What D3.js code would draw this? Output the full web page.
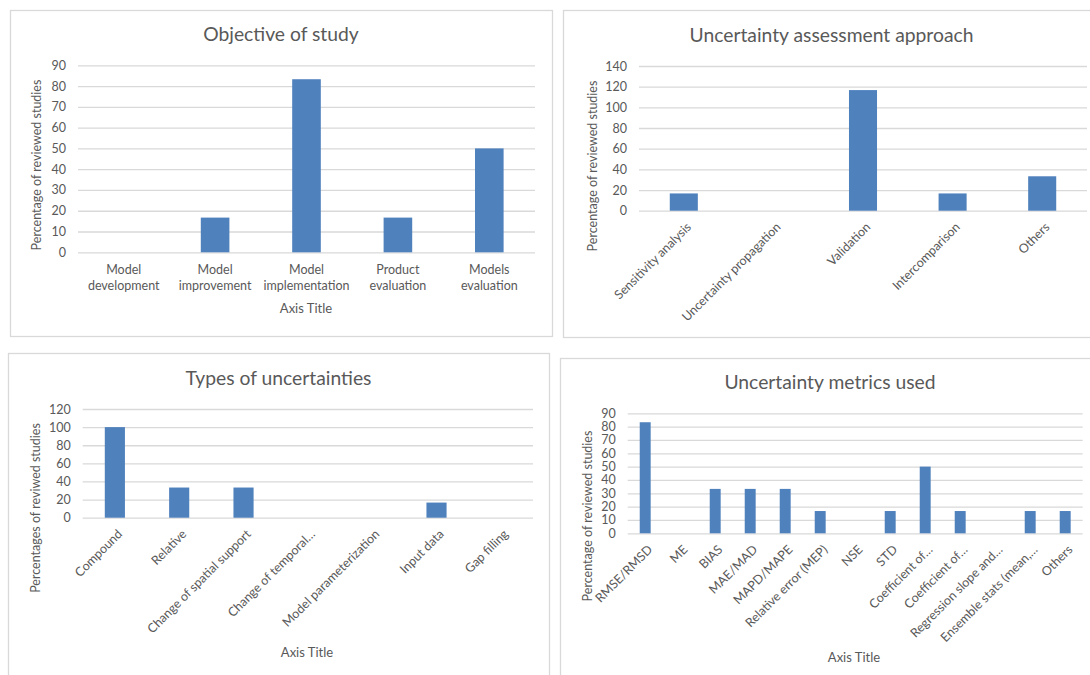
<!DOCTYPE html>
<html>
<head>
<meta charset="utf-8">
<script src="https://cdn.jsdelivr.net/npm/d3@7"></script>
<style>
  body { margin: 0; background: #fff; }
  svg text { font-family: Lato, "Open Sans", sans-serif; fill: #595959; }
</style>
</head>
<body>
<div id="chart"></div>
<script>
const w = 1090;
const h = 675;

// objective of study
const objectiveCats = ['Model development', 'Model improvement', 'Model implementation', 'Product evaluation', 'Models evaluation'];
const objectiveValues = [0, 16.7, 83.3, 16.7, 50];
const objectiveTicks = [0, 10, 20, 30, 40, 50, 60, 70, 80, 90];

// uncertainty assessment approach
const approachCats = ['Sensitivity analysis', 'Uncertainty propagation', 'Validation', 'Intercomparison', 'Others'];
const approachValues = [16.7, 0, 116.7, 16.7, 33.3];
const approachTicks = [0, 20, 40, 60, 80, 100, 120, 140];

// types of uncertainties
const typeCats = ['Compound', 'Relative', 'Change of spatial support', 'Change of temporal…', 'Model parameterization', 'Input data', 'Gap filling'];
const typeValues = [100, 33.3, 33.3, 0, 0, 16.7, 0];
const typeTicks = [0, 20, 40, 60, 80, 100, 120];

// uncertainty metrics used
const metricCats = ['RMSE/RMSD', 'ME', 'BIAS', 'MAE/MAD', 'MAPD/MAPE', 'Relative error (MEP)', 'NSE', 'STD',
  'Coefficient of…', 'Coefficient of…', 'Regression slope and…', 'Ensemble stats (mean,…', 'Others'];
const metricValues = [83.3, 0, 33.3, 33.3, 33.3, 16.7, 0, 16.7, 50, 16.7, 0, 16.7, 16.7];
const metricTicks = [0, 10, 20, 30, 40, 50, 60, 70, 80, 90];

const barColor = '#4f81bd';
const gridColor = '#d9d9d9';

const svg = d3.select('#chart').append('svg').attr('width', w).attr('height', h);

function drawPanel(o) {
  // frame
  svg.append('rect')
    .attr('x', o.box[0] + 0.5).attr('y', o.box[1] + 0.5)
    .attr('width', o.box[2] - o.box[0]).attr('height', o.box[3] - o.box[1])
    .attr('fill', '#fff').attr('stroke', gridColor).attr('stroke-width', 1.3);

  svg.append('text')
    .attr('x', (o.box[0] + o.box[2]) / 2).attr('y', o.titleY)
    .attr('text-anchor', 'middle').style('font-size', '19.3px')
    .text(o.title);

  const x = d3.scaleBand()
    .domain(d3.range(o.cats.length))
    .range([o.left, o.right])
    .paddingInner(0.687)
    .paddingOuter(0.3435);

  const y = d3.scaleLinear()
    .domain([0, d3.max(o.ticks)])
    .range([o.bottom, o.top]);

  const yAxis = d3.axisLeft(y)
    .tickValues(o.ticks)
    .tickSize(-(o.right - o.left))
    .tickPadding(12);

  const gy = svg.append('g')
    .attr('transform', `translate(${o.left},0)`)
    .call(yAxis);
  gy.select('.domain').remove();
  gy.selectAll('.tick line').attr('stroke', gridColor).attr('stroke-width', 1.3);
  gy.selectAll('.tick text').style('font-size', '12.5px').attr('fill', '#595959').attr('font-family', null);

  svg.append('g')
    .selectAll('rect')
    .data(o.values)
    .enter()
    .append('rect')
    .attr('x', (d, i) => x(i))
    .attr('width', x.bandwidth())
    .attr('y', (d) => y(d))
    .attr('height', (d) => o.bottom - y(d))
    .attr('fill', barColor);

  const xAxis = d3.axisBottom(x)
    .tickSize(0)
    .tickFormat((i) => o.cats[i]);

  const gx = svg.append('g')
    .attr('transform', `translate(0,${o.bottom})`)
    .call(xAxis);
  gx.select('.domain').remove();
  const labels = gx.selectAll('.tick text')
    .attr('fill', '#595959').attr('font-family', null)
    .style('font-size', '12.5px');

  if (o.rotate) {
    labels
      .attr('text-anchor', 'end')
      .attr('x', 0).attr('y', 0).attr('dy', '0.35em')
      .attr('transform', 'translate(5,14) rotate(-45)');
  } else {
    labels.each(function (d) {
      const t = d3.select(this);
      const s = o.cats[d];
      const k = s.indexOf(' ');
      t.text(null).attr('y', 0).attr('dy', null);
      t.append('tspan').attr('x', 0).attr('y', 22).text(s.slice(0, k));
      t.append('tspan').attr('x', 0).attr('y', 38).text(s.slice(k + 1));
    });
  }

  svg.append('text')
    .attr('transform', `translate(${o.yTitleX},${o.yTitleY}) rotate(-90)`)
    .attr('text-anchor', 'middle').attr('dy', '0.35em')
    .style('font-size', '12.5px')
    .text(o.yTitle);

  if (o.xTitleY) {
    svg.append('text')
      .attr('x', o.xTitleX).attr('y', o.xTitleY)
      .attr('text-anchor', 'middle').attr('dy', '0.35em')
      .style('font-size', '13px')
      .text('Axis Title');
  }
}

drawPanel({
  box: [10, 10, 552, 336], title: 'Objective of study', titleY: 41,
  cats: objectiveCats, values: objectiveValues, ticks: objectiveTicks,
  left: 78, right: 535, top: 65.3, bottom: 252.3, rotate: false,
  yTitle: 'Percentage of reviewed studies', yTitleX: 37, yTitleY: 165,
  xTitleX: 306, xTitleY: 308
});

drawPanel({
  box: [563, 10, 1100, 337], title: 'Uncertainty assessment approach', titleY: 42,
  cats: approachCats, values: approachValues, ticks: approachTicks,
  left: 639, right: 1087, top: 66, bottom: 210.7, rotate: true,
  yTitle: 'Percentage of reviewed studies', yTitleX: 593, yTitleY: 166
});

drawPanel({
  box: [8, 353, 549, 690], title: 'Types of uncertainties', titleY: 385,
  cats: typeCats, values: typeValues, ticks: typeTicks,
  left: 82.7, right: 533, top: 409, bottom: 517.7, rotate: true,
  yTitle: 'Percentages of reviwed studies', yTitleX: 36, yTitleY: 508,
  xTitleX: 307, xTitleY: 652
});

drawPanel({
  box: [560, 358, 1100, 690], title: 'Uncertainty metrics used', titleY: 389,
  cats: metricCats, values: metricValues, ticks: metricTicks,
  left: 627.7, right: 1082.7, top: 413.3, bottom: 533.3, rotate: true,
  yTitle: 'Percentage of reviewed studies', yTitleX: 588, yTitleY: 516,
  xTitleX: 854, xTitleY: 657
});
</script>
</body>
</html>
